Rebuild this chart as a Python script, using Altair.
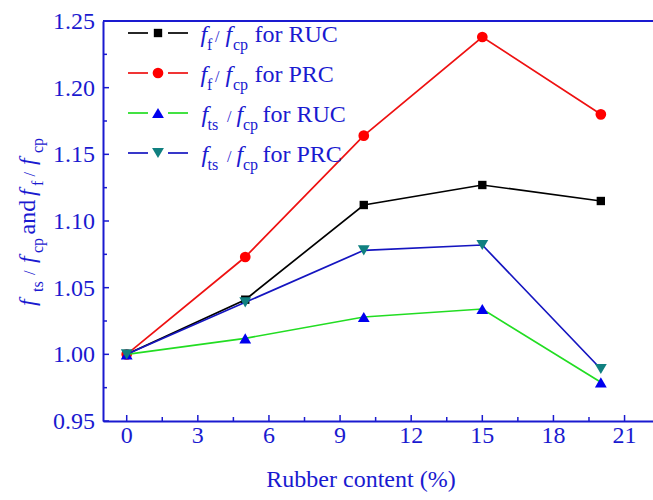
import altair as alt
import pandas as pd

# ---------------- data ----------------
rubber_content = [0, 5, 10, 15, 20]
ff_ruc = [1.000, 1.041, 1.112, 1.127, 1.115]
ff_prc = [1.000, 1.073, 1.164, 1.238, 1.180]
fts_ruc = [1.000, 1.012, 1.028, 1.034, 0.979]
fts_prc = [1.000, 1.039, 1.078, 1.082, 0.989]

series_keys = ["ff_RUC", "ff_PRC", "fts_RUC", "fts_PRC"]
series_values = [ff_ruc, ff_prc, fts_ruc, fts_prc]
line_colors = ["#000000", "#ee1111", "#22dd22", "#1515c0"]
marker_colors = ["#000000", "#ff0000", "#0000ee", "#108080"]
marker_shapes = ["square", "circle", "triangle-up", "triangle-down"]
marker_sizes = [70, 115, 140, 140]

x_ticks = [0, 3, 6, 9, 12, 15, 18, 21]
x_minor = [1.5, 4.5, 7.5, 10.5, 13.5, 16.5, 19.5]
y_ticks = [0.95, 1.00, 1.05, 1.10, 1.15, 1.20, 1.25]
y_minor = [0.975, 1.025, 1.075, 1.125, 1.175, 1.225]
x_labels = ["0", "3", "6", "9", "12", "15", "18", "21"]
y_labels = ["0.95", "1.00", "1.05", "1.10", "1.15", "1.20", "1.25"]

x_title = "Rubber content (%)"
legend_rest = ["for RUC", "for PRC", "for RUC", "for PRC"]
legend_sub = ["f", "f", "ts", "ts"]

BLUE = "#1a1ad0"
FONT = "Liberation Serif"
W, H = 550, 400
PAD_L, PAD_T = 103, 21

AX = dict(domainColor=BLUE, domainWidth=2, tickSize=0, grid=False,
          labels=False, title=None)

xscale = alt.Scale(domain=[-1, 22.2], nice=False, zero=False)
yscale = alt.Scale(domain=[0.95, 1.25], nice=False, zero=False)

rows = []
for key, vals in zip(series_keys, series_values):
    for xv, yv in zip(rubber_content, vals):
        rows.append({"series": key, "x": xv, "y": yv})
df = pd.DataFrame(rows)

layers = []
# axes carrier (invisible)
base = alt.Chart(df).mark_point(opacity=0).encode(
    x=alt.X("x:Q", scale=xscale, axis=alt.Axis(values=x_ticks, **AX)),
    y=alt.Y("y:Q", scale=yscale, axis=alt.Axis(values=y_ticks, **AX)),
)
layers.append(base)

for key, lc, mc, shp, sz in zip(series_keys, line_colors, marker_colors,
                                marker_shapes, marker_sizes):
    sub = df[df["series"] == key]
    layers.append(alt.Chart(sub).mark_line(color=lc, strokeWidth=1.7).encode(
        x=alt.X("x:Q", scale=xscale), y=alt.Y("y:Q", scale=yscale)))
    layers.append(alt.Chart(sub).mark_point(
        shape=shp, filled=True, color=mc, size=sz, opacity=1).encode(
        x=alt.X("x:Q", scale=xscale), y=alt.Y("y:Q", scale=yscale)))

# inside ticks
def tick_layer(vals, axis, length):
    d = pd.DataFrame({"x": vals, "y": vals})
    if axis == "x":
        return alt.Chart(d).mark_rule(color=BLUE, strokeWidth=1.5).encode(
            x=alt.X("x:Q", scale=xscale),
            y=alt.value(H), y2=alt.value(H - length))
    return alt.Chart(d).mark_rule(color=BLUE, strokeWidth=1.5).encode(
        y=alt.Y("y:Q", scale=yscale),
        x=alt.value(0), x2=alt.value(length))

layers += [tick_layer(x_ticks, "x", 6), tick_layer(x_minor, "x", 4),
           tick_layer(y_ticks, "y", 6), tick_layer(y_minor, "y", 4)]

# tick labels (through the scales)
xl = pd.DataFrame({"x": x_ticks, "lab": x_labels})
layers.append(alt.Chart(xl).mark_text(
    font=FONT, fontSize=24, color=BLUE, align="center",
    baseline="alphabetic").encode(
    x=alt.X("x:Q", scale=xscale), y=alt.value(442.5 - PAD_T),
    text="lab:N"))
yl = pd.DataFrame({"y": y_ticks, "lab": y_labels})
layers.append(alt.Chart(yl).mark_text(
    font=FONT, fontSize=24, color=BLUE, align="right",
    baseline="alphabetic", dy=8).encode(
    y=alt.Y("y:Q", scale=yscale), x=alt.value(-8), text="lab:N"))

one = pd.DataFrame({"k": [0]})
# top frame line
layers.append(alt.Chart(one).mark_rule(color=BLUE, strokeWidth=2).encode(
    x=alt.value(0), x2=alt.value(W), y=alt.value(0)))


def txt(s, x, y, size=24, italic=False, angle=0, align="left"):
    return alt.Chart(one).mark_text(
        text=s, fontSize=size, font=FONT, color=BLUE, align=align,
        baseline="alphabetic", angle=angle,
        fontStyle="italic" if italic else "normal").encode(
        x=alt.value(x - PAD_L), y=alt.value(y - PAD_T))


# x-axis title
layers.append(txt(x_title, 361, 487, 24, align="center"))

# legend
for i in range(4):
    base_y = 41.7 + 40 * i
    my = base_y - 8.7
    lc, mc = line_colors[i], marker_colors[i]
    layers.append(alt.Chart(one).mark_rule(color=lc, strokeWidth=1.7).encode(
        x=alt.value(128 - PAD_L), x2=alt.value(148 - PAD_L), y=alt.value(my - PAD_T)))
    layers.append(alt.Chart(one).mark_rule(color=lc, strokeWidth=1.7).encode(
        x=alt.value(168 - PAD_L), x2=alt.value(188 - PAD_L), y=alt.value(my - PAD_T)))
    layers.append(alt.Chart(one).mark_point(
        shape=marker_shapes[i], filled=True, color=mc, size=marker_sizes[i],
        opacity=1).encode(x=alt.value(158 - PAD_L), y=alt.value(my - PAD_T)))
    if legend_sub[i] == "f":
        pos = [200.5, 207, 215, 225.5, 233, 254.5]
    else:
        pos = [201.5, 207.5, 227, 236.5, 243, 262.5]
    layers.append(txt("f", pos[0], base_y, 24, True))
    layers.append(txt(legend_sub[i], pos[1], base_y + 8, 16))
    layers.append(txt("/", pos[2], base_y, 16))
    layers.append(txt("f", pos[3], base_y, 24, True))
    layers.append(txt("cp", pos[4], base_y + 8, 16))
    layers.append(txt(legend_rest[i], pos[5], base_y, 24))

# y-axis title (rotated)
BX, SX = 35, 43
ytitle = [("f", 306, BX, 24, True), ("ts", 292, SX, 16, False),
          ("/", 275, BX, 16, False), ("f", 263, BX, 24, True),
          ("cp", 253, SX, 16, False), ("and", 234.5, BX, 24, False),
          ("f", 196, BX, 24, True), ("f", 186, SX, 16, False),
          ("/", 176.5, BX, 16, False), ("f", 165, BX, 24, True),
          ("cp", 153, SX, 16, False)]
for s, yy, xx, sz, it in ytitle:
    layers.append(txt(s, xx, yy, sz, it, angle=270))

chart = alt.layer(*layers).properties(
    width=W, height=H, background="white",
    autosize=alt.AutoSizeParams(type="none"),
    padding={"left": PAD_L, "top": PAD_T, "right": 0, "bottom": 79},
).configure_view(stroke=None).configure_axis(**AX)

chart.save("out.html", embed_options={"renderer": "svg", "actions": False})
